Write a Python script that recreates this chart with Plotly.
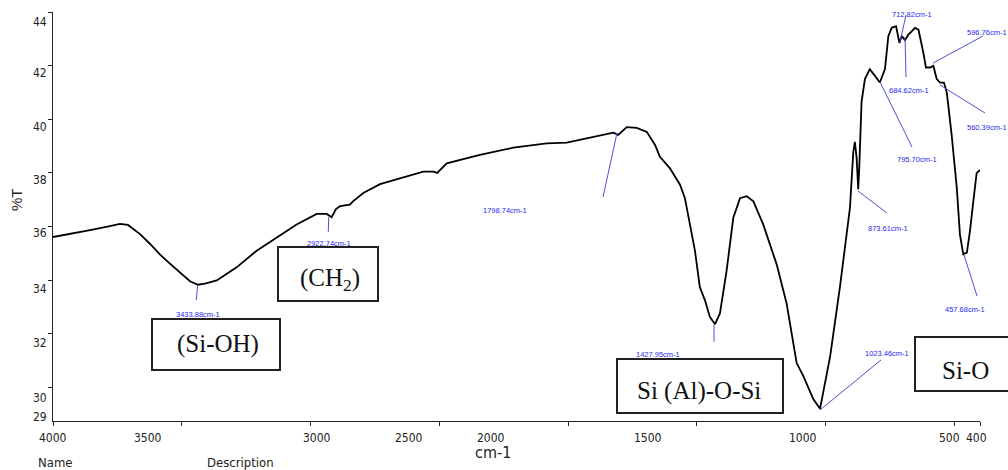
import plotly.graph_objects as go

# ---------------- data ----------------
wavenumber = [4000, 3934, 3856, 3779, 3740, 3709, 3662, 3623, 3584, 3546, 3507, 3468, 3437, 3406,
              3364, 3328, 3287, 3209, 3131, 3054, 2976, 2937, 2918, 2901, 2885, 2847, 2835, 2795,
              2730, 2652, 2562, 2523, 2508, 2471, 2342, 2212, 2083, 2005, 1902, 1824, 1805, 1772,
              1733, 1694, 1662, 1643, 1604, 1565, 1546, 1527, 1507, 1488, 1468, 1449, 1429, 1410,
              1384, 1358, 1332, 1306, 1280, 1242, 1190, 1151, 1112, 1086, 1047, 1021, 982, 944,
              905, 892, 886, 879, 873, 869, 860, 847, 828, 808, 789, 769, 756, 743, 726, 713, 704,
              691, 678, 652, 639, 620, 610, 594, 581, 568, 555, 540, 529, 510, 490, 478, 465, 451,
              439, 426, 413, 400]
transmittance = [35.61, 35.72, 35.87, 36.02, 36.10, 36.06, 35.72, 35.35, 34.95, 34.62, 34.28, 33.96,
                 33.83, 33.88, 33.99, 34.21, 34.48, 35.10, 35.59, 36.08, 36.47, 36.47, 36.35, 36.65,
                 36.76, 36.82, 36.94, 37.25, 37.58, 37.80, 38.05, 38.05, 38.00, 38.36, 38.67, 38.94,
                 39.10, 39.13, 39.34, 39.50, 39.42, 39.71, 39.68, 39.53, 39.04, 38.60, 38.17, 37.56,
                 37.06, 36.13, 35.10, 33.74, 33.25, 32.63, 32.36, 32.76, 34.36, 36.33, 37.06, 37.13,
                 36.94, 36.08, 34.60, 33.13, 30.91, 30.42, 29.56, 29.21, 31.16, 33.74, 36.70, 38.79,
                 39.16, 38.54, 37.39, 38.17, 40.64, 41.50, 41.87, 41.62, 41.37, 41.87, 43.10, 43.41,
                 43.47, 42.85, 43.10, 42.95, 43.16, 43.41, 43.34, 42.48, 41.93, 41.93, 41.99, 41.50,
                 41.37, 41.37, 41.00, 39.41, 37.43, 35.71, 34.97, 35.03, 35.83, 36.94, 37.99, 38.11]

x_ticks = [4000, 3500, 3000, 2500, 2000, 1500, 1000, 500, 400]
x_tick_labels = ["4000", "3500", "3000", "2500", "2000", "1500", "1000", "500", "400"]
x_label_at = [4000, 3631, 2975, 2617, 2299, 1689, 1087, 520, 412]

y_ticks = [30, 32, 34, 36, 38, 40, 42, 44]
y_tick_labels = ["44", "42", "40", "38", "36", "34", "32", "30", "29"]
y_label_at = [43.63, 41.73, 39.71, 37.74, 35.76, 33.67, 31.66, 29.61, 28.90]

peak_labels = ["3433.88cm-1", "2922.74cm-1", "1798.74cm-1", "1427.95cm-1", "1023.46cm-1",
               "873.61cm-1", "795.70cm-1", "712.82cm-1", "684.62cm-1", "596.76cm-1",
               "560.39cm-1", "457.68cm-1"]
band_labels = ["(Si-OH)", "(CH<sub>2</sub>)", "Si (Al)-O-Si", "Si-O"]

# ---------------- layout helpers (pixel placement in paper units) ----------------
W, H = 1008, 470
L, R, T, B = 53, 28, 12, 49
PW, PH = W - L - R, H - T - B


def px(xp):
    return (xp - L) / PW


def py(yp):
    return (H - B - yp) / PH


NARROW = "Liberation Sans Narrow, Arial Narrow, DejaVu Sans Condensed, sans-serif"
SANS = "Liberation Sans, Arial, sans-serif"
SERIF = "Liberation Serif, Times New Roman, serif"
BLUE_TXT = "rgb(40,40,245)"
BLUE_LN = "rgb(80,80,215)"

fig = go.Figure()
fig.add_trace(go.Scatter(x=wavenumber, y=transmittance, mode="lines",
                         line=dict(color="black", width=1.8),
                         showlegend=False, hoverinfo="skip"))

YR = [28.75, 44]
fig.update_layout(
    width=W, height=H,
    margin=dict(l=L, r=R, t=T, b=B),
    plot_bgcolor="white", paper_bgcolor="white",
    showlegend=False,
    xaxis=dict(range=[4000, 400], tickvals=x_ticks, showticklabels=False,
               ticks="outside", ticklen=4, tickcolor="#222", showline=True,
               linecolor="#222", linewidth=1, showgrid=False, zeroline=False),
    yaxis=dict(range=YR, tickvals=y_ticks, showticklabels=False,
               ticks="outside", ticklen=4, tickcolor="#222", showline=True,
               linecolor="#222", linewidth=1, showgrid=False, zeroline=False),
)


def note(x, y, text, font, xref="paper", yref="paper", xanchor="center", **kw):
    fig.add_annotation(x=x, y=y, xref=xref, yref=yref, text=text, showarrow=False,
                       xanchor=xanchor, yanchor="middle", font=font, **kw)


# tick labels (placed where the reference prints them)
for lab, xv in zip(x_tick_labels, x_label_at):
    note(xv, py(438), lab, dict(family=NARROW, size=12, color="#222"), xref="x")
for lab, yv in zip(y_tick_labels, y_label_at):
    note(px(49), yv, lab, dict(family=NARROW, size=12, color="#222"), yref="y",
         xanchor="right")

# axis titles and footer
note(px(16), py(200), "%T", dict(family=SANS, size=15, color="#222"), textangle=-90)
note(px(493), py(452), "cm-1", dict(family=NARROW, size=16, color="#222"))
note(px(55), py(463), "Name", dict(family=NARROW, size=13, color="#222"))
note(px(240), py(463), "Description", dict(family=NARROW, size=13, color="#222"))

# peak labels: (text centre x, y) and leader line (x0, y0, x1, y1) in pixels
label_pos = [(198, 314), (329, 243), (505, 210), (658, 354), (887, 353), (888, 228),
             (917, 159), (912, 15), (909, 90), (987, 33), (987, 128), (965, 309)]
leaders = [(197.7, 285, 196.3, 300), (328.7, 217, 328.3, 232), (617, 133, 603, 197),
           (714, 325, 714, 342), (820, 410, 881, 360), (858, 191, 887, 213),
           (880, 82, 912, 147), (900, 42, 906, 15), (905, 37, 906, 77),
           (933, 63, 983, 36), (940, 85, 985, 113), (964, 255, 977, 296)]
for txt, (tx, ty) in zip(peak_labels, label_pos):
    note(px(tx), py(ty), txt, dict(family=SANS, size=7.5, color=BLUE_TXT))
for (x0, y0, x1, y1) in leaders:
    fig.add_shape(type="line", xref="paper", yref="paper", x0=px(x0), y0=py(y0),
                  x1=px(x1), y1=py(y1), line=dict(color=BLUE_LN, width=1))

# band boxes (x0, y0, x1, y1 in pixels) and their text centres
boxes = [(152, 319, 280, 370), (278, 247, 378, 301), (617, 359, 783, 413), (915, 337, 1030, 391)]
box_text_pos = [(218, 344), (330, 279), (699, 391), (965, 370)]
for (x0, y0, x1, y1) in boxes:
    fig.add_shape(type="rect", xref="paper", yref="paper", x0=px(x0), y0=py(y1),
                  x1=px(x1), y1=py(y0), line=dict(color="#222", width=2),
                  fillcolor="rgba(0,0,0,0)")
for txt, (tx, ty) in zip(band_labels, box_text_pos):
    note(px(tx), py(ty), txt, dict(family=SERIF, size=25, color="#111"))

fig.write_html("out.html")
